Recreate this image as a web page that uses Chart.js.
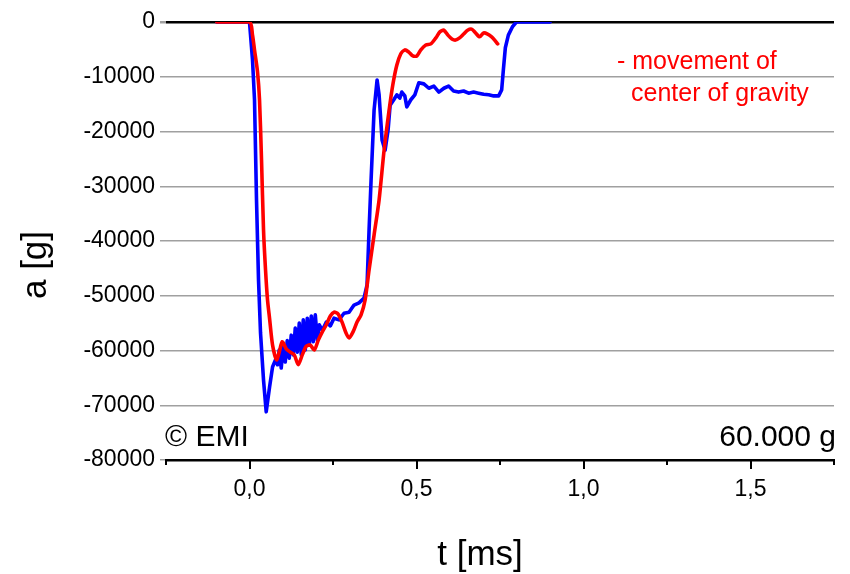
<!DOCTYPE html>
<html>
<head>
<meta charset="utf-8">
<title>a [g] vs t [ms]</title>
<script src="https://cdn.jsdelivr.net/npm/chart.js@4.4.1/dist/chart.umd.min.js"></script>
<style>
  html, body { margin: 0; padding: 0; background: #fff; }
  #wrap { width: 850px; height: 574px; }
</style>
</head>
<body>
<div id="wrap"><canvas id="chart" width="850" height="574"></canvas></div>
<script>
// ── Data (t in ms, a in g) ──────────────────────────────────────────────────
const blueT = [
  -0.098, 0.0, 0.009, 0.015, 0.021, 0.027, 0.033, 0.042, 0.050, 0.060, 0.069, 0.078,
  0.084, 0.089, 0.095, 0.101, 0.107, 0.113, 0.119, 0.125, 0.131, 0.137, 0.143, 0.149,
  0.155, 0.161, 0.167, 0.173, 0.179, 0.185, 0.191, 0.197, 0.203, 0.209, 0.218, 0.230,
  0.242, 0.253, 0.268, 0.283, 0.298, 0.313, 0.328, 0.343, 0.352, 0.358, 0.364, 0.373,
  0.382, 0.388, 0.397, 0.406, 0.415, 0.421, 0.432, 0.441, 0.450, 0.456, 0.465, 0.471,
  0.483, 0.495, 0.507, 0.522, 0.537, 0.552, 0.567, 0.582, 0.596, 0.611, 0.626, 0.641,
  0.656, 0.671, 0.686, 0.701, 0.716, 0.731, 0.746, 0.755, 0.760, 0.766, 0.775, 0.787,
  0.799, 0.900
];
const blueA = [
  0, 0, -6900, -14200, -32500, -47100, -56800, -65400, -71200, -66700, -63000, -61700,
  -62600, -59900, -63200, -59000, -62100, -58200, -61400, -57200, -60800, -55900, -60300, -55000,
  -60800, -54400, -59900, -54100, -59000, -53700, -58400, -53500, -58100, -55300, -56300, -54800,
  -55500, -54100, -54400, -53200, -53000, -51700, -51300, -50400, -48000, -38000, -28900, -16100,
  -10600, -13300, -21600, -23400, -19700, -15200, -14200, -13300, -13900, -12800, -13500, -15500,
  -14200, -13300, -11100, -11300, -12100, -11700, -12800, -12100, -11700, -12600, -12800, -12600,
  -13000, -12800, -13000, -13200, -13300, -13500, -13500, -12400, -8800, -4700, -2400, -900,
  0, 0
];

const redT = [
  -0.098, 0.0, 0.009, 0.015, 0.024, 0.030, 0.036, 0.042, 0.048, 0.054, 0.060, 0.069,
  0.081, 0.089, 0.098, 0.110, 0.122, 0.134, 0.146, 0.158, 0.170, 0.182, 0.194, 0.206,
  0.218, 0.230, 0.242, 0.253, 0.265, 0.277, 0.289, 0.298, 0.310, 0.322, 0.334, 0.346,
  0.358, 0.373, 0.388, 0.403, 0.418, 0.429, 0.441, 0.453, 0.465, 0.477, 0.489, 0.501,
  0.513, 0.528, 0.543, 0.558, 0.570, 0.582, 0.594, 0.606, 0.617, 0.629, 0.641, 0.653,
  0.665, 0.677, 0.689, 0.701, 0.713, 0.725, 0.734, 0.743
];
const redA = [
  0, 0, -2400, -5100, -9100, -14200, -25200, -38000, -45300, -50800, -54100, -59000,
  -61700, -60300, -58400, -59700, -60300, -60800, -62600, -60800, -59200, -59000, -59900, -58100,
  -56600, -55300, -53700, -53000, -53300, -54800, -56800, -57700, -56600, -54800, -53500, -50800,
  -45300, -38900, -32500, -23400, -16100, -11500, -7900, -5800, -5100, -5500, -6200, -6200,
  -5100, -4200, -4000, -2900, -1800, -1500, -2400, -3100, -3300, -2900, -2200, -1500,
  -1300, -2000, -2700, -2000, -2200, -2700, -3300, -4000
];

const xMin = -0.25, xMax = 1.75, xStep = 0.25;
const yMin = -80000, yMax = 0, yStep = 10000;

// ── Helpers ────────────────────────────────────────────────────────────────
const FONT = "Arial, 'Liberation Sans', sans-serif";
const toPoints = (ts, as) => ts.map((t, i) => ({ x: t, y: as[i] }));
const isMajor = v => Math.abs(v / 0.5 - Math.round(v / 0.5)) < 1e-6;

// Draws x tick marks (long for labelled, short for minor) and all free text.
const decorations = {
  id: "decorations",
  afterDraw(chart) {
    const { ctx, chartArea, scales } = chart;
    const xs = scales.x;
    ctx.save();

    // x tick marks
    ctx.strokeStyle = "#000";
    ctx.lineWidth = 2;
    xs.ticks.forEach(tk => {
      const px = Math.round(xs.getPixelForValue(tk.value));
      const len = isMajor(tk.value) ? 9 : 5;
      ctx.beginPath();
      ctx.moveTo(px, chartArea.bottom);
      ctx.lineTo(px, chartArea.bottom + len);
      ctx.stroke();
    });

    ctx.fillStyle = "#000";
    ctx.textBaseline = "alphabetic";

    // axis titles
    ctx.font = `35px ${FONT}`;
    ctx.textAlign = "center";
    ctx.fillText("t [ms]", 480, 565);

    ctx.save();
    ctx.translate(46, 265);
    ctx.rotate(-Math.PI / 2);
    ctx.fillText("a [g]", 0, 0);
    ctx.restore();

    // in-plot labels
    ctx.font = `30px ${FONT}`;
    ctx.textAlign = "left";
    ctx.fillText("\u00A9 EMI", 165, 446);
    ctx.textAlign = "right";
    ctx.fillText("60.000 g", 836, 446);

    ctx.fillStyle = "#ff0000";
    ctx.font = `25px ${FONT}`;
    ctx.textAlign = "left";
    ctx.fillText("- movement of", 617, 69);
    ctx.fillText("center of gravity", 631, 101);

    ctx.restore();
  }
};

new Chart(document.getElementById("chart"), {
  type: "scatter",
  data: {
    datasets: [
      {
        label: "center of gravity",
        data: toPoints(redT, redA),
        showLine: true,
        borderColor: "#ff0000",
        borderWidth: 3.6,
        borderJoinStyle: "round",
        borderCapStyle: "round",
        pointRadius: 0,
        tension: 0.25,
        order: 0,
      },
      {
        label: "a",
        data: toPoints(blueT, blueA),
        showLine: true,
        borderColor: "#0000ff",
        borderWidth: 3.6,
        borderJoinStyle: "round",
        borderCapStyle: "round",
        pointRadius: 0,
        tension: 0,
        order: 1,
      },
    ],
  },
  options: {
    responsive: false,
    animation: false,
    devicePixelRatio: 1,
    layout: { padding: { top: 22, right: 12, left: 0, bottom: 0 } },
    plugins: {
      legend: { display: false },
      tooltip: { enabled: false },
    },
    scales: {
      x: {
        type: "linear",
        min: xMin,
        max: xMax,
        afterFit: s => { s.height = 114; },
        afterBuildTicks: s => {
          s.ticks = [];
          for (let v = xMin; v <= xMax + 1e-9; v += xStep) s.ticks.push({ value: +v.toFixed(2) });
        },
        ticks: {
          autoSkip: false,
          maxRotation: 0,
          padding: 16,
          color: "#000",
          font: { family: FONT, size: 23 },
          callback: v => (isMajor(v) ? v.toFixed(1).replace(".", ",") : ""),
        },
        grid: { drawOnChartArea: false, drawTicks: false },
        border: { display: true, color: "#000", width: 2.5 },
      },
      y: {
        type: "linear",
        min: yMin,
        max: yMax,
        afterFit: s => { s.width = 166; },
        ticks: {
          stepSize: yStep,
          padding: 5,
          color: "#000",
          font: { family: FONT, size: 23 },
          callback: v => String(v),
        },
        grid: {
          color: c => (c.tick && c.tick.value === 0 ? "#000" : "#a0a0a0"),
          lineWidth: c => (c.tick && c.tick.value === 0 ? 2.5 : 1.5),
          tickColor: "#a0a0a0",
          tickLength: 6,
        },
        border: { display: false },
      },
    },
  },
  plugins: [decorations],
});
</script>
</body>
</html>
